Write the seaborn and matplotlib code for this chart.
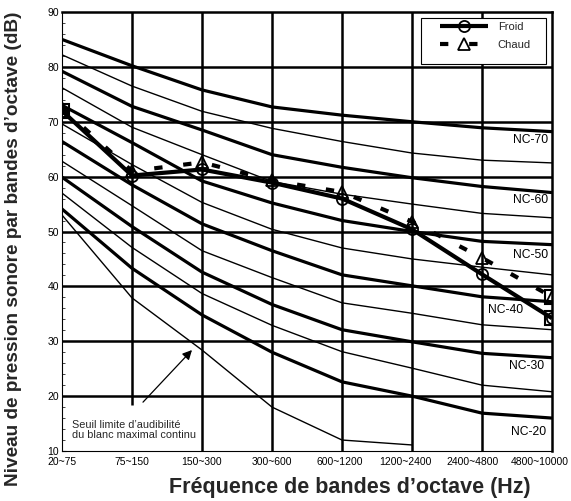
import numpy as np
import pandas as pd
import matplotlib
matplotlib.use("Agg")
import matplotlib.pyplot as plt
import matplotlib.transforms as mtransforms
from matplotlib.patches import Rectangle
import seaborn as sns

# ---------------- data ----------------
bands = ["20~75", "75~150", "150~300", "300~600", "600~1200",
         "1200~2400", "2400~4800", "4800~10000"]

nc_names = ["NC-20", "NC-25", "NC-30", "NC-35", "NC-40", "NC-45",
            "NC-50", "NC-55", "NC-60", "NC-65", "NC-70"]
nc20 = [54.1, 43.3, 34.8, 28.0, 22.6, 20.0, 16.9, 16.0]
nc25 = [57.0, 47.1, 38.7, 32.9, 28.1, 25.1, 22.0, 20.8]
nc30 = [59.9, 50.9, 42.6, 36.7, 32.1, 29.9, 27.8, 27.0]
nc35 = [62.8, 54.7, 46.5, 41.6, 37.0, 35.1, 33.0, 32.1]
nc40 = [66.4, 58.5, 51.4, 46.5, 42.1, 40.1, 38.1, 37.2]
nc45 = [69.6, 62.2, 55.3, 50.4, 47.0, 45.0, 43.5, 42.1]
nc50 = [73.0, 66.2, 59.2, 55.2, 52.0, 50.0, 48.2, 47.6]
nc55 = [76.2, 69.0, 64.0, 59.1, 56.8, 55.0, 53.3, 52.5]
nc60 = [79.2, 72.8, 68.5, 64.0, 61.7, 59.8, 58.2, 57.1]
nc65 = [82.2, 76.5, 71.9, 68.8, 66.4, 64.3, 63.0, 62.5]
nc70 = [85.0, 80.2, 75.8, 72.7, 71.2, 70.0, 68.9, 68.2]
nc_values = [nc20, nc25, nc30, nc35, nc40, nc45, nc50, nc55, nc60, nc65, nc70]
nc_thick = ["NC-20", "NC-30", "NC-40", "NC-50", "NC-60", "NC-70"]

threshold = [53.0, 37.9, 28.4, 18.0, 12.0, 11.1]   # first six bands only

froid = [72.0, 60.2, 61.3, 58.9, 56.0, 50.4, 42.2, 34.2]
chaud = [72.5, 61.0, 62.6, 59.3, 57.2, 51.8, 45.2, 38.1]
boxed_idx = [0, 7]   # points framed by a square

y_ticks = [10, 20, 30, 40, 50, 60, 70, 80, 90]

# ---------------- style ----------------
sns.set_theme(style="white")
plt.rcParams["font.family"] = ["Liberation Sans", "DejaVu Sans"]
plt.rcParams["lines.solid_capstyle"] = "butt"
plt.rcParams["lines.dash_capstyle"] = "butt"

fig = plt.figure(figsize=(5.71, 5.01), dpi=100)
ax = fig.add_axes([62 / 571, 1 - 451 / 501, 490 / 571, 439 / 501])
ax.set_facecolor("white")

xpos = np.arange(len(bands))

# grid
ax.hlines(y_ticks[1:-1], 0, len(bands) - 1, colors="black", lw=1.8, zorder=1)
ax.vlines(xpos[2:-1], 10, 90, colors="black", lw=1.8, zorder=1)
ax.vlines(xpos[1], 18.4, 90, colors="black", lw=1.8, zorder=1)

# NC curves
for name, vals in zip(nc_names, nc_values):
    lw = 2.3 if name in nc_thick else 1.0
    sns.lineplot(x=xpos, y=vals, ax=ax, color="black", lw=lw, zorder=2,
                 legend=False)

# threshold of audibility
sns.lineplot(x=xpos[:len(threshold)], y=threshold, ax=ax, color="black",
             lw=1.0, zorder=2, legend=False)

# measured series
sns.lineplot(x=xpos, y=chaud, ax=ax, color="black", lw=3.0,
             linestyle=(0, (2, 5)), marker="^", markersize=8,
             markerfacecolor="none", markeredgecolor="black",
             markeredgewidth=1.3, label="Chaud", zorder=4)
sns.lineplot(x=xpos, y=froid, ax=ax, color="black", lw=3.0,
             marker="o", markersize=8, markerfacecolor="none",
             markeredgecolor="black", markeredgewidth=1.3,
             label="Froid", zorder=5)

hx = [xpos[i] for i in boxed_idx] + [xpos[boxed_idx[-1]]]
hy = [froid[i] for i in boxed_idx] + [chaud[boxed_idx[-1]]]
ax.plot(hx, hy, ls="none", marker="s", ms=10.5, mfc="none", mec="black",
        mew=1.5, zorder=6)

# legend (frame drawn separately to get the wide left margin)
h, l = ax.get_legend_handles_labels()
order = [l.index("Froid"), l.index("Chaud")]
leg = ax.legend([h[i] for i in order], [l[i] for i in order],
                loc="upper right", bbox_to_anchor=(0.957, 0.978),
                frameon=False, handlelength=4.3, handletextpad=0.9,
                borderpad=0, labelspacing=0.75, borderaxespad=0,
                prop={"family": ["Liberation Sans Narrow", "Liberation Sans"],
                      "size": 8})
leg.set_zorder(9)
ax.add_patch(Rectangle((0.733, 0.8815), 0.255, 0.105, transform=ax.transAxes,
                       facecolor="white", edgecolor="black", lw=0.8,
                       zorder=8))

# NC labels
label_pos = {"NC-70": (6.69, 66.7), "NC-60": (6.69, 55.7),
             "NC-50": (6.69, 45.7), "NC-40": (6.33, 35.7),
             "NC-30": (6.64, 25.4), "NC-20": (6.66, 13.5)}
for name, (lx, ly) in label_pos.items():
    ax.text(lx, ly, name, ha="center", va="center", fontsize=8.7,
            color="black", zorder=7)

# annotation
ax.annotate("", xy=(1.857, 28.4), xytext=(1.157, 18.9),
            arrowprops=dict(arrowstyle="-|>", color="black", lw=0.9,
                            mutation_scale=14, shrinkA=0, shrinkB=0),
            zorder=7)
ax.text(0.14, 13.85, "Seuil limite d\u2019audibilit\u00e9\ndu blanc maximal continu",
        ha="left", va="center", fontsize=7.8, linespacing=1.05, zorder=7)

# axes
ax.set_xlim(0, len(bands) - 1)
ax.set_ylim(10, 90)
ax.set_xticks(xpos)
ax.set_xticklabels(bands)
ax.set_yticks(y_ticks)
ax.set_yticks(np.arange(10, 91, 2), minor=True)
ax.tick_params(axis="x", length=0, pad=4, labelsize=7.5, colors="black")
ax.tick_params(axis="y", which="major", direction="in", length=3, width=0.8,
               pad=2, labelsize=7.5, colors="black", left=True)
ax.tick_params(axis="y", which="minor", direction="in", length=2, width=0.6,
               left=True)
# nudge crowded right-hand tick labels leftwards, as in the original
shift_px = [0, 0, 0, 0, -2, -7, -9, -12]
for lab, dx in zip(ax.get_xticklabels(), shift_px):
    lab.set_transform(lab.get_transform() +
                      mtransforms.ScaledTranslation(dx / 100, 0,
                                                    fig.dpi_scale_trans))
ax.set_xlabel("")
ax.set_ylabel("")
for side, lw in [("top", 1.8), ("right", 1.8), ("left", 0.8), ("bottom", 0.8)]:
    ax.spines[side].set_visible(True)
    ax.spines[side].set_color("black")
    ax.spines[side].set_linewidth(lw)

fig.text(14 / 571, 1 - 249 / 501,
         "Niveau de pression sonore par bandes d\u2019octave (dB)",
         rotation=90, ha="center", va="center", fontsize=13.7,
         fontweight="bold")
fig.text(350 / 571, 1 - 487 / 501,
         "Fr\u00e9quence de bandes d\u2019octave (Hz)",
         ha="center", va="center", fontsize=15.5, fontweight="bold")

fig.savefig("out.png", dpi=100, facecolor="white")
